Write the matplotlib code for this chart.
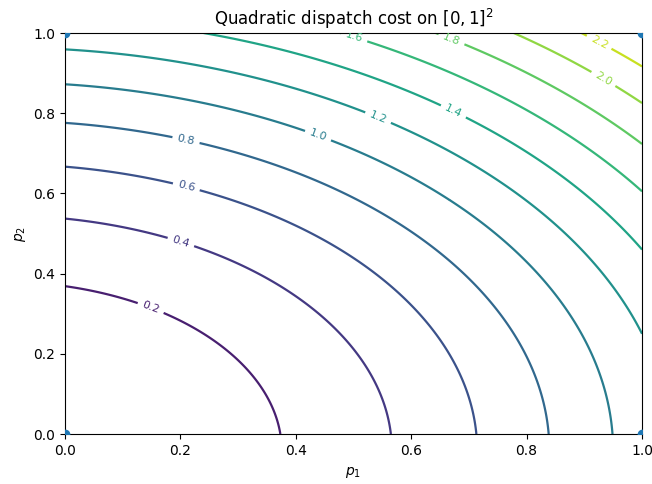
import numpy as np
import matplotlib
matplotlib.use("Agg")
import matplotlib.pyplot as plt

# cost coefficients
lin_cost = [0.2, 0.1]
quad_cost = [0.9, 1.2]
levels = [0.0, 0.2, 0.4, 0.6, 0.8, 1.0, 1.2, 1.4, 1.6, 1.8, 2.0, 2.2, 2.4]

# vertices of the box
corner_p1 = [0, 1, 0, 1]
corner_p2 = [0, 0, 1, 1]

# where the contour labels sit
label_spots = [(0.15, 0.32), (0.20, 0.475), (0.21, 0.615), (0.21, 0.735),
               (0.44, 0.75), (0.55, 0.815), (0.685, 0.84), (0.50, 0.985),
               (0.67, 0.985), (0.935, 0.89), (0.925, 0.975)]

p1 = np.linspace(0, 1, 301)
p2 = np.linspace(0, 1, 301)
P1, P2 = np.meshgrid(p1, p2)
cost = lin_cost[0] * P1 + quad_cost[0] * P1**2 + lin_cost[1] * P2 + quad_cost[1] * P2**2

fig, ax = plt.subplots(figsize=(6.52, 4.84), dpi=100)
fig.subplots_adjust(left=0.0997, right=0.9847, top=0.9318, bottom=0.1033)

cs = ax.contour(P1, P2, cost, levels=levels, cmap="viridis", linewidths=1.6)
ax.clabel(cs, inline=True, fontsize=8, manual=label_spots)
ax.scatter(corner_p1, corner_p2, color="tab:blue", s=36, zorder=3)

ax.set_xlim(0, 1)
ax.set_ylim(0, 1)
ax.set_title("Quadratic dispatch cost on $[0,1]^2$")
ax.set_xlabel("$p_1$", labelpad=5)
ax.set_ylabel("$p_2$")

fig.savefig("out.png", dpi=100)
